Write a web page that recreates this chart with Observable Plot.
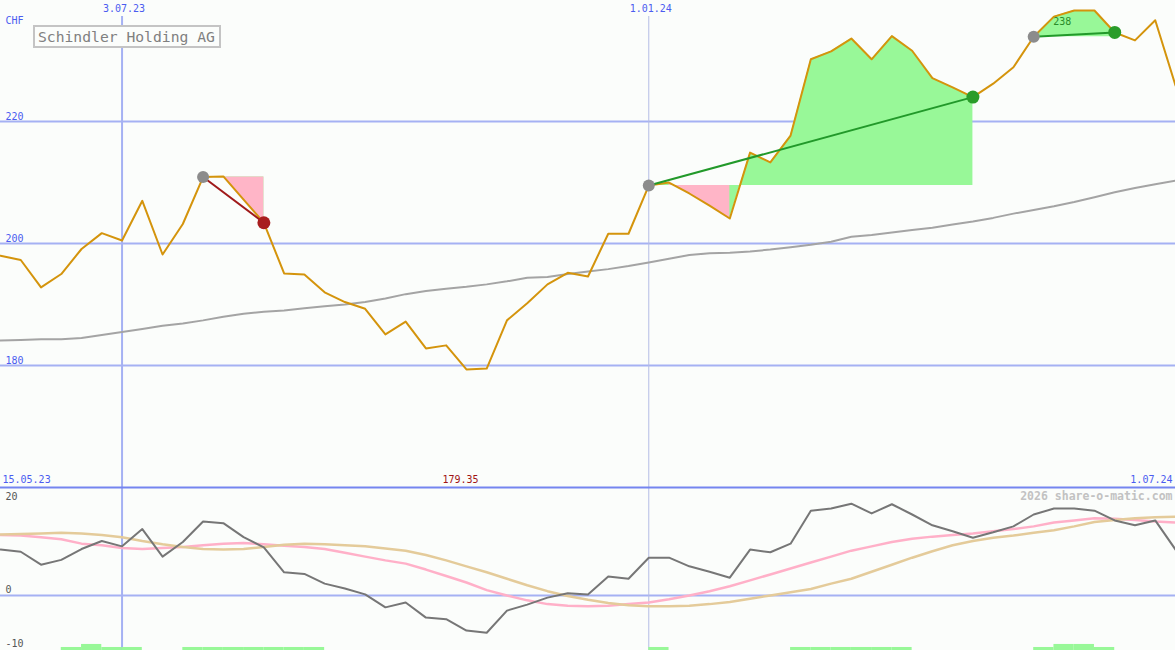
<!DOCTYPE html>
<html><head><meta charset="utf-8">
<script src="https://cdn.jsdelivr.net/npm/d3@7"></script>
<script src="https://cdn.jsdelivr.net/npm/@observablehq/plot@0.6"></script>
<style>
html,body{margin:0;padding:0;background:#fbfdfb;}
#wrap{position:relative;width:1175px;height:650px;overflow:hidden;background:#fbfdfb;font-family:"DejaVu Sans Mono",monospace;}
#wrap svg{position:absolute;left:0;}
#title{position:absolute;left:33px;top:25px;width:181px;height:19px;border:2px solid #c4c4c4;background:#fbfdfb;color:#808080;font-size:14.7px;line-height:19px;padding-left:3px;white-space:nowrap;z-index:5;font-family:"DejaVu Sans Mono",monospace;}
</style></head><body>
<div id="wrap"><div id="title">Schindler Holding AG</div></div>
<script>
// ---- data ----
const firstWeek = "2023-05-22";
const lastWeekPlusOne = "2024-07-09";
const xStart = "2023-05-22", xEnd = "2024-07-01";

const price = [198.0,197.3,192.8,195.0,199.1,201.7,200.5,207.0,198.2,203.2,
 210.9,211.0,207.2,203.4,195.1,194.9,192.0,190.4,189.3,185.1,
 187.2,182.8,183.3,179.35,179.5,187.4,190.2,193.3,195.2,194.6,
 201.6,201.6,209.5,210.0,208.2,206.2,204.1,214.9,213.3,217.7,
 230.2,231.5,233.6,230.2,234.0,231.6,227.1,225.6,224.0,226.2,
 228.9,233.9,237.2,238.2,238.2,234.6,233.3,236.6,225.9];

const movingAvg = [184.1,184.2,184.3,184.3,184.5,185.0,185.5,186.0,186.5,186.9,
 187.4,188.0,188.5,188.8,189.0,189.4,189.7,190.0,190.4,191.0,
 191.7,192.2,192.6,192.9,193.3,193.8,194.4,194.5,195.0,195.4,
 195.8,196.3,196.9,197.5,198.1,198.4,198.5,198.7,199.0,199.4,
 199.8,200.3,201.1,201.4,201.8,202.2,202.6,203.1,203.6,204.2,
 204.9,205.5,206.1,206.8,207.6,208.4,209.1,209.7,210.3];

const oscGray = [8.5,8.1,5.7,6.6,8.6,10.1,9.1,12.3,7.2,9.9,
 13.7,13.4,10.8,8.9,4.3,4.0,2.2,1.3,0.2,-2.2,
 -1.3,-4.1,-4.4,-6.5,-6.9,-2.8,-1.7,-0.4,0.4,0.2,
 3.5,3.1,7.0,7.0,5.4,4.4,3.3,8.5,8.0,9.6,
 15.7,16.1,17.0,15.2,16.9,15.0,13.0,11.9,10.7,11.7,
 12.8,15.0,16.1,16.1,15.7,13.9,13.0,13.9,8.5];

const oscPink = [11.2,11.1,10.8,10.4,9.6,9.3,8.8,8.6,8.8,9.0,
 9.3,9.6,9.7,9.5,9.2,9.0,8.6,7.9,7.2,6.5,
 5.9,4.8,3.6,2.4,1.0,0.0,-0.9,-1.6,-1.9,-2.0,
 -1.9,-1.6,-1.3,-0.7,0.0,0.8,1.7,2.8,3.9,5.0,
 6.1,7.2,8.3,9.1,9.9,10.5,10.9,11.2,11.5,11.9,
 12.3,12.8,13.5,13.9,14.3,14.2,14.0,13.7,13.5];

const oscTan = [11.3,11.4,11.5,11.6,11.5,11.2,10.8,10.1,9.5,9.0,
 8.6,8.5,8.6,9.0,9.4,9.6,9.5,9.3,9.1,8.7,
 8.3,7.5,6.5,5.4,4.3,3.1,1.9,0.8,-0.1,-0.8,
 -1.4,-1.8,-2.0,-2.0,-1.9,-1.6,-1.2,-0.6,0.0,0.6,
 1.2,2.2,3.1,4.4,5.7,7.0,8.2,9.3,10.1,10.7,
 11.1,11.6,12.1,12.8,13.6,14.0,14.3,14.5,14.6];

const signalLevel = [0,0,0,1,2,1,1,0,0,1,
 1,1,1,1,1,1,0,0,0,0,
 0,0,0,0,0,0,0,0,0,0,
 0,0,1,0,0,0,0,0,0,1,
 1,1,1,1,1,0,0,0,0,0,
 0,1,2,2,1,0,0,0,0];

const entryWeeks = [10, 32, 51];
const exitWeeks  = [13, 48, 55];
const exitColors = ["#a81e1e", "#2a9c2a", "#2a9c2a"];
const lineColors = ["#a01a1a", "#22992a", "#22992a"];
const lossStart = [11, 33];
const lossEnd   = [13, 36];
const lossTrade = [0, 1];

const yTicksMain = [180, 200, 220];
const yTicksLow = [0, -10];
const yTickLowTop = [20];
const gridDates = ["2023-07-03", "2024-01-01"];
const topLabels = ["3.07.23", "1.01.24"];
const leftDateLabel = "15.05.23";
const rightDateLabel = "1.07.24";
const currency = "CHF";
const watermark = "2026 share-o-matic.com";

// ---- build ----
const weekDates = d3.utcMonday.range(new Date(firstWeek), new Date(lastWeekPlusOne));
const rows = price.map((p, i) => ({date: weekDates[i], price: p, ma: movingAvg[i], osc: oscGray[i], pink: oscPink[i], tan: oscTan[i]}));

const gain = entryWeeks.flatMap((e, k) => rows.slice(e, exitWeeks[k] + 1).map(r => ({date: r.date, price: r.price, base: price[e], trade: k})));
const loss = lossStart.flatMap((s, k) => rows.slice(s, lossEnd[k] + 1).map(r => ({date: r.date, price: r.price, base: price[entryWeeks[lossTrade[k]]], trade: k})));
const tradeLines = entryWeeks.flatMap((e, k) => [
  {date: weekDates[e], price: price[e], trade: k, color: lineColors[k]},
  {date: weekDates[exitWeeks[k]], price: price[exitWeeks[k]], trade: k, color: lineColors[k]}]);
const entries = entryWeeks.map(e => ({date: weekDates[e], price: price[e]}));
const exits = exitWeeks.map((e, k) => ({date: weekDates[e], price: price[e], color: exitColors[k]}));

const maxI = d3.maxIndex(price), minI = d3.minIndex(price);
const signals = signalLevel.map((l, i) => ({d1: weekDates[i], d2: weekDates[i + 1], level: l})).filter(d => d.level > 0);

const X = {type: "utc", domain: [new Date(xStart), new Date(xEnd)], range: [0, 1175], axis: null};
const font = "DejaVu Sans Mono, monospace";
const blueTxt = "#4b5cf0";

const main = Plot.plot({
  width: 1175, height: 487, margin: 0,
  x: X, y: {domain: [160, 239.84], axis: null},
  color: {type: "identity"},
  style: {background: "transparent", fontFamily: font, fontSize: "10px", overflow: "visible"},
  marks: [
    Plot.ruleY(yTicksMain, {stroke: "#a5b1f3", strokeWidth: 2}),
    Plot.ruleX([new Date(gridDates[0])], {stroke: "#a5b1f3", strokeWidth: 2, insetTop: 16}),
    Plot.ruleX([new Date(gridDates[1])], {stroke: "#b4bce6", strokeWidth: 1, insetTop: 16}),
    Plot.areaY(gain, {x: "date", y1: "base", y2: "price", z: "trade", fill: "#98f898"}),
    Plot.areaY(loss, {x: "date", y1: "base", y2: "price", z: "trade", fill: "#ffb5c7"}),
    Plot.line(rows, {x: "date", y: "ma", stroke: "#a4a4a4", strokeWidth: 2}),
    Plot.line(rows, {x: "date", y: "price", stroke: "#d4940c", strokeWidth: 2}),
    Plot.line(tradeLines, {x: "date", y: "price", z: "trade", stroke: "color", strokeWidth: 2}),
    Plot.dot(entries, {x: "date", y: "price", r: 6, fill: "#8c8c8c"}),
    Plot.dot(exits, {x: "date", y: "price", r: 6.5, fill: "color"}),
    Plot.text([currency], {text: d => d, frameAnchor: "top-left", textAnchor: "start", lineAnchor: "middle", dx: 5, dy: 20, fill: blueTxt, fontFamily: font, fontSize: 10}),
    Plot.text(yTicksMain, {y: d => d, text: d => String(d), frameAnchor: "left", textAnchor: "start", dx: 5, dy: -5, fill: blueTxt, fontFamily: font, fontSize: 10}),
    Plot.text(gridDates.map((g, i) => ({date: new Date(g), label: topLabels[i]})), {x: "date", text: "label", frameAnchor: "top", lineAnchor: "middle", dy: 8, dx: 2, fill: blueTxt, fontFamily: font, fontSize: 10}),
    Plot.text([{date: weekDates[maxI], price: price[maxI]}], {x: "date", y: "price", text: d => String(Math.round(d.price)), dx: -12, dy: 11, fill: "#2a8c2a", fontFamily: font, fontSize: 10})
  ]
});

const low = Plot.plot({
  width: 1175, height: 183, marginTop: 20, marginBottom: 0, marginLeft: 0, marginRight: 0,
  x: X, y: {domain: [-10.19, 20], axis: null},
  style: {background: "transparent", fontFamily: font, fontSize: "10px", overflow: "visible"},
  marks: [
    Plot.ruleY([0], {stroke: "#a5b1f3", strokeWidth: 2}),
    Plot.ruleX([new Date(gridDates[0])], {stroke: "#a5b1f3", strokeWidth: 2}),
    Plot.ruleX([new Date(gridDates[1])], {stroke: "#b4bce6", strokeWidth: 1}),
    Plot.ruleY(yTickLowTop, {stroke: "#7585f0", strokeWidth: 2}),
    Plot.rect(signals, {x1: "d1", x2: "d2", y1: -10.19, y2: d => -10.19 + d.level * 0.56, fill: "#98f898"}),
    Plot.line(rows, {x: "date", y: "pink", stroke: "#ffb0c8", strokeWidth: 2.5}),
    Plot.line(rows, {x: "date", y: "tan", stroke: "#e4cb9a", strokeWidth: 2.5}),
    Plot.line(rows, {x: "date", y: "osc", stroke: "#767676", strokeWidth: 2}),
    Plot.text([leftDateLabel], {text: d => d, frameAnchor: "top-left", textAnchor: "start", lineAnchor: "middle", dx: 2, dy: -8, fill: blueTxt, fontFamily: font, fontSize: 10}),
    Plot.text([rightDateLabel], {text: d => d, frameAnchor: "top-right", textAnchor: "end", lineAnchor: "middle", dx: -3, dy: -8, fill: blueTxt, fontFamily: font, fontSize: 10}),
    Plot.text([{date: weekDates[minI], price: price[minI]}], {x: "date", text: d => d3.format(".2f")(d.price), frameAnchor: "top", lineAnchor: "middle", dx: -6, dy: -8, fill: "#a01414", fontFamily: font, fontSize: 10}),
    Plot.text(yTicksLow, {y: d => d, text: d => String(d), frameAnchor: "left", textAnchor: "start", dx: 5, dy: -6, fill: "#555555", fontFamily: font, fontSize: 10}),
    Plot.text(yTickLowTop, {y: d => d, text: d => String(d), frameAnchor: "left", textAnchor: "start", dx: 5, dy: 9, fill: "#555555", fontFamily: font, fontSize: 10}),
    Plot.text([watermark], {text: d => d, frameAnchor: "top-right", textAnchor: "end", lineAnchor: "middle", dx: -3, dy: 9, fill: "#c2c2c2", fontWeight: "bold", fontFamily: font, fontSize: 11.5})
  ]
});

const wrap = document.getElementById("wrap");
main.style.top = "0px";
low.style.top = "467px";
wrap.appendChild(main);
wrap.appendChild(low);
</script>
</body></html>
